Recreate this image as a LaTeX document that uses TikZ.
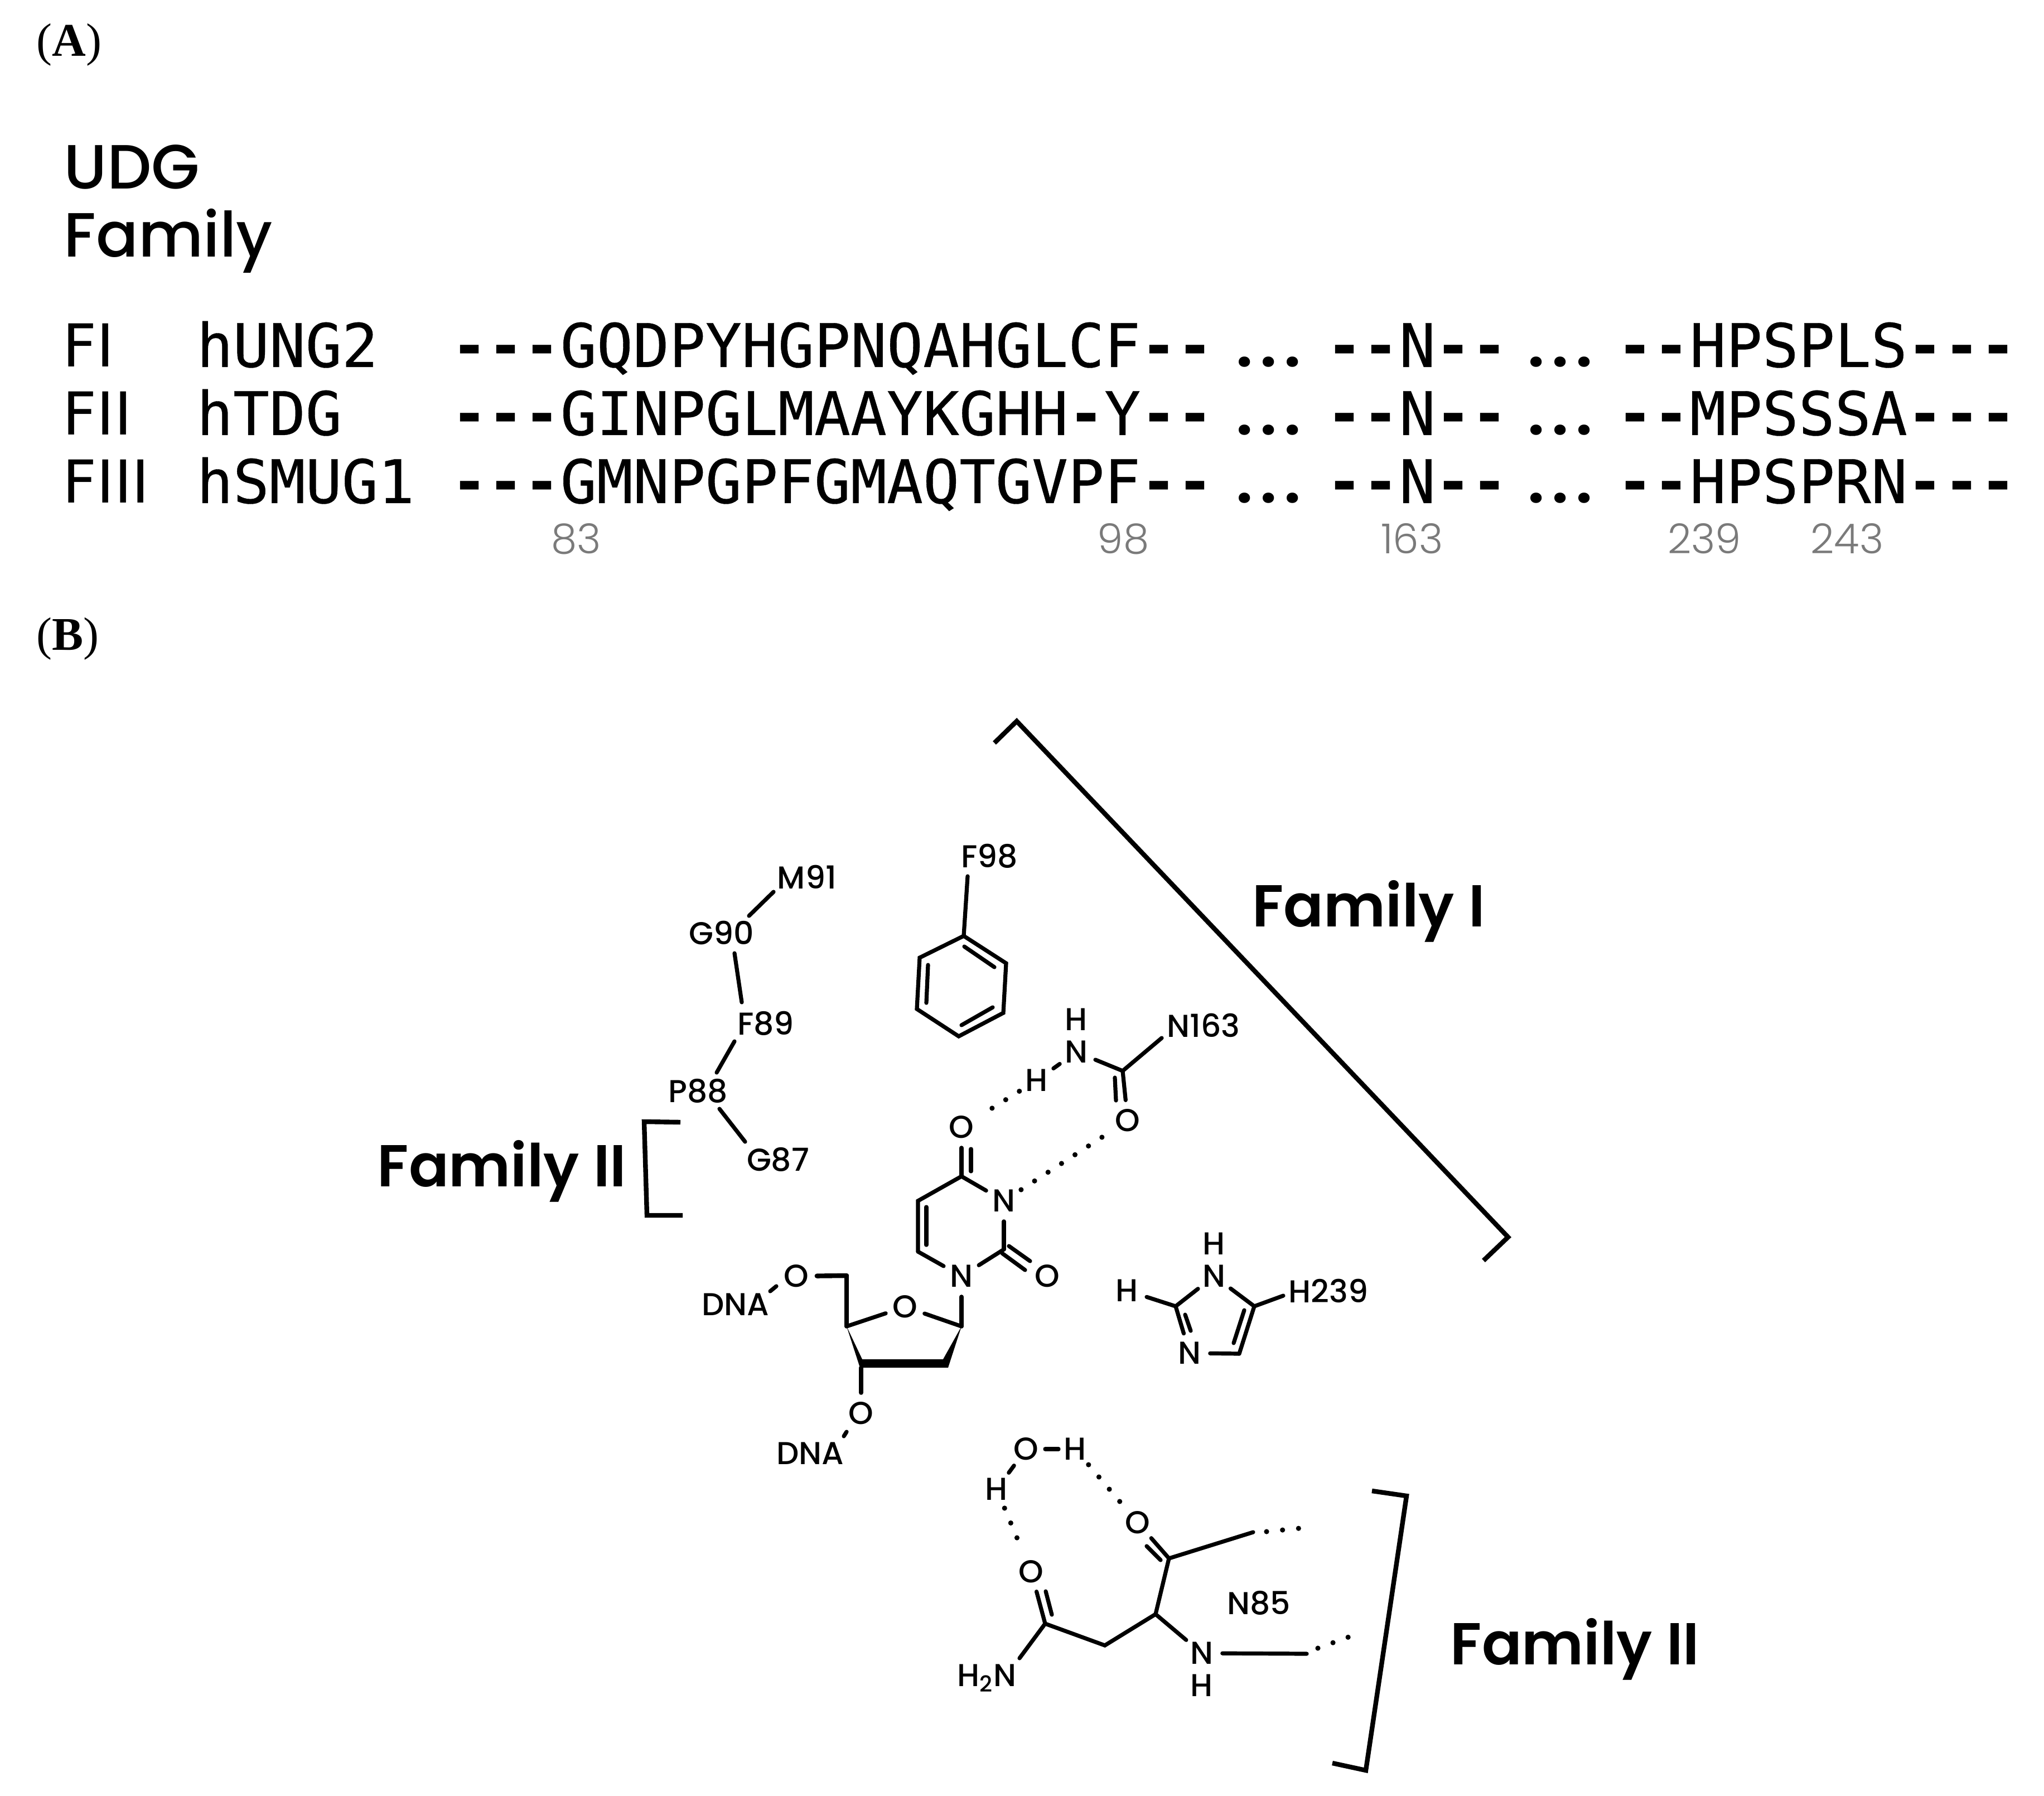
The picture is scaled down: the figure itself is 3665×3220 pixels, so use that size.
\documentclass[tikz,border=0pt]{standalone}
\usepackage{fontspec}
\setmainfont{Poppins}
\newfontfamily\monof[FakeBold=0.35]{DejaVu Sans Mono}
\newfontfamily\monob{DejaVu Sans Mono Bold}
\newfontfamily\dejav{DejaVu Sans}
\newfontfamily\timesf{Liberation Serif}
\newfontfamily\popm{Poppins Medium}
\newfontfamily\pops{Poppins SemiBold}
\newfontfamily\popl{Poppins Light}
\newcommand{\fsz}[1]{\fontsize{#1}{#1}\selectfont}
\tikzset{
  atom/.style={circle,inner sep=0pt,minimum size=18pt,font=\popm\fsz{14.2}},
  lab/.style={inner sep=0pt,font=\popm\fsz{14.2}},
  fam/.style={inner sep=0pt,font=\pops\fsz{26.5}},
  bond/.style={line width=1.8pt,line cap=round,line join=miter},
  hb/.style={line width=2.3pt,line cap=round,dash pattern=on 0pt off 7.2pt},
  brack/.style={line width=2.1pt,line join=miter},
  seqtext/.style={anchor=base west,inner sep=0pt,font=\monof\fsz{27}},
  sans/.style={anchor=base west,inner sep=0pt,font=\dejav\fsz{26.5}},
  dots/.style={anchor=base west,inner sep=0pt,font=\fsz{25}\bfseries},
  num/.style={inner sep=0pt,text=black!52,font=\popl\fsz{18.5}},
  head/.style={anchor=base west,inner sep=0pt,font=\popm\fsz{28}},
  panel/.style={anchor=base west,inner sep=0pt,font=\timesf\fsz{21}}
}
\newcommand{\gapdots}{.\kern3.6pt.\kern3.6pt.}
\newcommand{\dd}[1]{{\monob #1}}
\begin{document}
\begin{tikzpicture}[x=0.25pt,y=-0.25pt]
\useasboundingbox (0,0) rectangle (3665,3220);
\fill[white] (0,0) rectangle (3665,3220);
% panel labels
\node[panel] (pa) at (65,101) {(\textbf{A})};
\node[panel] (pb) at (65,1165) {(\textbf{B})};
% heading
\node[head] (udg) at (114,339) {UDG};
\node[head] (fmly) at (114,461) {Family};
% alignment
\node[sans] (f1) at (112,658) {FI};
\node[sans] (f2) at (112,780) {FII};
\node[sans] (f3) at (112,902) {FIII};
\node[seqtext] (n1) at (352,658) {hUNG2};
\node[seqtext] (n2) at (352,780) {hTDG};
\node[seqtext] (n3) at (352,902) {hSMUG1};
\node[seqtext] (s1a) at (809,658) {\dd{---}GQDPYHGPNQAHGLCF\dd{--}};
\node[seqtext] (s2a) at (809,780) {\dd{---}GINPGLMAAYKGHH\dd{-}Y\dd{--}};
\node[seqtext] (s3a) at (809,902) {\dd{---}GMNPGPFGMAQTGVPF\dd{--}};
\node[dots] (d1a) at (2217,658) {\gapdots};
\node[dots] (d2a) at (2217,780) {\gapdots};
\node[dots] (d3a) at (2217,902) {\gapdots};
\node[seqtext] (s1b) at (2378,658) {\dd{--}N\dd{--}};
\node[seqtext] (s2b) at (2378,780) {\dd{--}N\dd{--}};
\node[seqtext] (s3b) at (2378,902) {\dd{--}N\dd{--}};
\node[dots] (d1b) at (2740,658) {\gapdots};
\node[dots] (d2b) at (2740,780) {\gapdots};
\node[dots] (d3b) at (2740,902) {\gapdots};
\node[seqtext] (s1c) at (2899,658) {\dd{--}HPSPLS\dd{---}};
\node[seqtext] (s2c) at (2899,780) {\dd{--}MPSSSA\dd{---}};
\node[seqtext] (s3c) at (2899,902) {\dd{--}HPSPRN\dd{---}};
\node[num] (k83) at (1033,966) {83};
\node[num] (k98) at (2014,966) {98};
\node[num] (k163) at (2532,966) {163};
\node[num] (k239) at (3056,966) {239};
\node[num] (k243) at (3312,966) {243};
% family labels and brackets
\node[fam] (famI) at (2454,1634) {Family I};
\node[fam] (famIIa) at (900,2100) {Family II};
\node[fam] (famIIb) at (2824,2957) {Family II};
\draw[brack] (1783,1332) -- (1823,1293) -- (2704,2218) -- (2660,2260);
\draw[brack] (1220,2012) -- (1155,2011) -- (1160,2179) -- (1224,2179);
\draw[brack] (2460,2673) -- (2522,2682) -- (2449,3174) -- (2389,3161);
% residue chain
\node[lab] (M91) at (1447,1572) {M91};
\node[lab] (G90) at (1294,1672) {G90};
\node[lab] (F89) at (1373,1835) {F89};
\node[lab] (P88) at (1252,1956) {P88};
\node[lab] (G87) at (1395,2079) {G87};
\draw[bond] ([shift={(-60,27)}]M91.center) -- ([shift={(49,-30)}]G90.center);
\draw[bond] ([shift={(23,37)}]G90.center) -- ([shift={(-43,-38)}]F89.center);
\draw[bond] ([shift={(-56,32)}]F89.center) -- ([shift={(33,-33)}]P88.center);
\draw[bond] ([shift={(38,32)}]P88.center) -- ([shift={(-59,-32)}]G87.center);
% phenyl F98
\node[lab] (F98) at (1774,1535) {F98};
\coordinate (b1) at (1728,1678);
\coordinate (b2) at (1804,1727);
\coordinate (b3) at (1799,1816);
\coordinate (b4) at (1719,1858);
\coordinate (b5) at (1644,1809);
\coordinate (b6) at (1649,1717);
\draw[bond] ([shift={(-39,36)}]F98.center) -- (b1);
\draw[bond] (b1) -- (b2) -- (b3) -- (b4) -- (b5) -- (b6) -- cycle;
\draw[bond] (1729,1697) -- (1783,1734);
\draw[bond] (1664,1730) -- (1661,1798);
\draw[bond] (1724,1838) -- (1780,1806);
% N163 amide
\node[atom] (aH1) at (1930,1828) {H};
\node[atom] (aN) at (1930,1886) {N};
\node[atom] (aH2) at (1859,1937) {H};
\node[lab] (N163) at (2158,1838) {N163};
\coordinate (aC) at (2013,1920);
\node[atom] (aO) at (2022,2009) {O};
\draw[bond] (aN) -- (aC);
\draw[bond] ([shift={(-75,23)}]N163.center) -- (aC);
\draw[bond] (aC) -- (aO);
\draw[bond] (1999,1932) -- (2001,1973);
\draw[bond] (aN) -- (aH2);
% uracil
\node[atom] (O4) at (1724,2021) {O};
\coordinate (C4) at (1724,2109);
\node[atom] (N3) at (1800,2153) {N};
\coordinate (C2) at (1800,2240);
\node[atom] (N1) at (1724,2288) {N};
\coordinate (C6) at (1646,2244);
\coordinate (C5) at (1646,2153);
\node[atom] (O2) at (1878,2288) {O};
\draw[bond] (O4) -- (C4);
\draw[bond] (1741,2060) -- (1741,2100);
\draw[bond] (C4) -- (N3);
\draw[bond] (N3) -- (C2);
\draw[bond] (C2) -- (N1);
\draw[bond] (N1) -- (C6);
\draw[bond] (C6) -- (C5) -- (C4);
\draw[bond] (1661,2164) -- (1661,2232);
\draw[bond] (1809,2234) -- (1847,2261);
\draw[bond] (1797,2247) -- (1838,2277);
% hydrogen bonds
\draw[hb,shorten >=2.5pt] (aH2) -- (O4);
\draw[hb] (N3) -- (aO);
% sugar
\coordinate (C1s) at (1724,2378);
\node[atom] (Os) at (1623,2343) {O};
\coordinate (C4s) at (1518,2378);
\coordinate (C5s) at (1518,2287);
\node[atom] (O5) at (1428,2288) {O};
\node[lab] (DNA1) at (1319,2339) {DNA};
\coordinate (C3s) at (1544,2452);
\node[atom] (O3) at (1544,2534) {O};
\node[lab] (DNA2) at (1453,2606) {DNA};
\draw[bond] (N1) -- (C1s);
\draw[bond] (C1s) -- (Os);
\draw[bond] (Os) -- (C4s);
\draw[bond] (C4s) -- (C5s);
\draw[bond,line width=2.1pt] (C5s) -- (O5);
\draw[bond] ([shift={(-36,18)}]O5.center) -- ([shift={(-47,27)}]O5.center);
\draw[bond] (C3s) -- (O3);
\draw[bond] ([shift={(-26,33)}]O3.center) -- ([shift={(-31,41)}]O3.center);
\fill (C4s) -- (1546,2437) -- (1691,2437) -- (C1s) -- (1700,2452) -- (1542,2452) -- cycle;
% imidazole H239
\node[atom] (iHt) at (2177,2230) {H};
\node[atom] (iN1) at (2177,2288) {N};
\node[atom] (iH) at (2021,2314) {H};
\coordinate (iC2) at (2108,2342);
\coordinate (iC5) at (2249,2342);
\node[lab] (H239) at (2382,2314) {H239};
\node[atom] (iN3) at (2133,2426) {N};
\coordinate (iC4) at (2222,2427);
\draw[bond] (iH) -- (iC2);
\draw[bond] (iN1) -- (iC2);
\draw[bond] (iN1) -- (iC5);
\draw[bond] (iC2) -- (iN3);
\draw[bond] (2125,2357) -- (2135,2386);
\draw[bond] (iC5) -- (iC4);
\draw[bond] (2231,2349) -- (2212,2408);
\draw[bond] (iN3) -- (iC4);
\draw[bond] ([shift={(-81,9)}]H239.center) -- (iC5);
% water and N85
\node[atom] (wO) at (1840,2598) {O};
\node[atom] (wH1) at (1928,2598) {H};
\node[atom] (wH2) at (1787,2670) {H};
\node[atom] (bO) at (2040,2730) {O};
\node[atom] (sO) at (1849,2818) {O};
\coordinate (sC) at (1874,2911);
\coordinate (CH2) at (1981,2950);
\coordinate (Ca) at (2072,2894);
\coordinate (bC) at (2096,2794);
\coordinate (bEnd) at (2247,2747);
\coordinate (bD1) at (2271,2746);
\coordinate (bD2) at (2330,2740);
\node[atom] (nN) at (2155,2964) {N};
\node[atom] (nH) at (2155,3022) {H};
\coordinate (nEnd) at (2343,2965);
\coordinate (nD1) at (2363,2955);
\coordinate (nD2) at (2418,2935);
\node[lab] (N85) at (2257,2874) {N85};
\node[lab] (H2N) at (1769,3009) {H\textsubscript{2}N};
\draw[bond] ([shift={(34,0)}]wO.center) -- ([shift={(-30,0)}]wH1.center);
\draw[bond] (wO) -- (wH2);
\draw[hb] (wH1) -- (bO);
\draw[hb,shorten >=2.5pt] (wH2) -- (sO);
\draw[bond] (sO) -- (sC);
\draw[bond] (1875,2853) -- (1886,2895);
\draw[bond] ([shift={(59,-36)}]H2N.center) -- (sC);
\draw[bond] (sC) -- (CH2) -- (Ca) -- (bC);
\draw[bond] (Ca) -- (nN);
\draw[bond] (bO) -- (bC);
\draw[bond] (2056,2772) -- (2081,2797);
\draw[bond] (bC) -- (bEnd);
\draw[hb] (bD1) -- (bD2);
\draw[bond] (nN) -- (nEnd);
\draw[hb] (nD1) -- (nD2);
\end{tikzpicture}
\end{document}
